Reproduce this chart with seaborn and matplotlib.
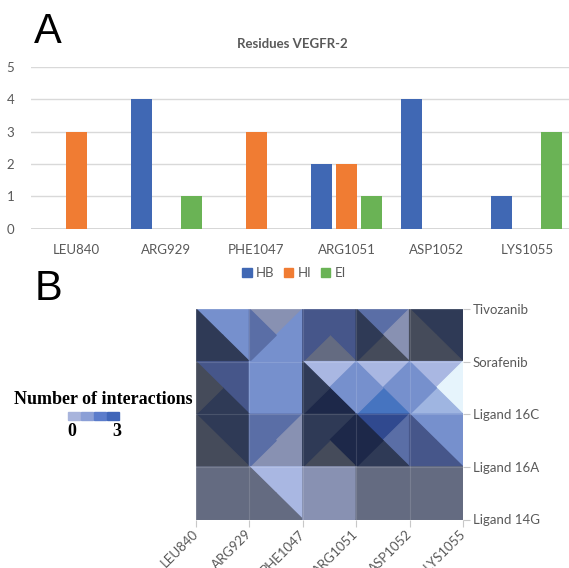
import matplotlib
matplotlib.use("Agg")
import matplotlib.pyplot as plt
import matplotlib.tri as mtri
from matplotlib.colors import ListedColormap
from matplotlib.patches import Rectangle, Patch
import numpy as np
import pandas as pd
import seaborn as sns

# ---------------- data ----------------
residues = ['LEU840', 'ARG929', 'PHE1047', 'ARG1051', 'ASP1052', 'LYS1055']
interaction_types = ['HB', 'HI', 'EI']
hb_counts = [0, 4, 0, 2, 4, 1]
hi_counts = [3, 0, 3, 2, 0, 0]
ei_counts = [0, 1, 0, 1, 0, 3]

ligands = ['Tivozanib', 'Sorafenib', 'Ligand 16C', 'Ligand 16A', 'Ligand 14G']

# surface facets: per cell (between two ligand rows, two residues) the
# shade of the top, right, bottom, left triangles
facets_tiv_sor = [('M', 'M', 'D', 'D'), ('GB', 'M', 'M', 'MB'), ('DB', 'DB', 'G', 'DB'),
                  ('MB', 'GB', 'S', 'D'), ('D', 'D', 'S', 'S')]
facets_sor_16c = [('DB', 'DB', 'D', 'S'), ('M', 'M', 'M', 'M'), ('L', 'M', 'N', 'D'),
                  ('L', 'M', 'B', 'M'), ('L', 'ICE', 'L2', 'M')]
facets_16c_16a = [('D', 'D', 'S', 'S'), ('MB', 'GB', 'GB', 'MB'), ('D', 'N', 'S', 'D'),
                  ('B2', 'MB', 'D', 'N'), ('M', 'M', 'DB', 'DB')]
facets_16a_14g = [('G', 'G', 'G', 'G'), ('L', 'L', 'G', 'G'), ('GB', 'GB', 'GB', 'GB'),
                  ('G', 'G', 'G', 'G'), ('G', 'G', 'G', 'G')]

legend_levels = ['0', '3']

# ---------------- style ----------------
shade_colors = {
    'D': '#2f3a56', 'N': '#1d2849', 'S': '#454b5a', 'G': '#646b81',
    'GB': '#8891b2', 'M': '#7690cd', 'MB': '#5a6ea6', 'DB': '#46568a',
    'L': '#a9b7e2', 'B': '#4674c0', 'B2': '#30498f', 'ICE': '#e6f4fc',
    'L2': '#9fb5e1',
}
bar_colors = ['#4068b4', '#f07c33', '#6ab355']
legend_swatch_colors = ['#a8b4dc', '#8b9fd6', '#5b7ccb', '#4066b9']
text_gray = '#595959'

plt.rcParams['font.family'] = ['Lato', 'DejaVu Sans']

W, H = 569, 568
fig = plt.figure(figsize=(W / 100, H / 100), dpi=100)

def fx(px):
    return px / W

def fy(py):
    return 1 - py / H

# ---------------- panel A ----------------
axA = fig.add_axes([fx(31), fy(228.7), fx(541), (228.7 - 67) / H])
df = pd.DataFrame({
    'residue': residues * 3,
    'type': sum([[t] * len(residues) for t in interaction_types], []),
    'count': hb_counts + hi_counts + ei_counts,
})
sns.barplot(data=df, x='residue', y='count', hue='type', hue_order=interaction_types,
            order=residues, palette=bar_colors, width=0.83, gap=0.16,
            linewidth=0, ax=axA, legend=False, saturation=1)
axA.set_ylim(0, 5)
axA.set_xlim(-0.5, 5.5)
axA.set_yticks(range(6))
axA.yaxis.grid(True, color='#d9d9d9', lw=1)
axA.set_axisbelow(True)
for s in axA.spines.values():
    s.set_visible(False)
axA.axhline(0, color='#d0d0d0', lw=1.2, zorder=0)
axA.tick_params(axis='both', length=0, colors=text_gray, labelsize=9.5)
axA.tick_params(axis='x', pad=11)
axA.tick_params(axis='y', pad=12)
axA.set_xlabel('')
axA.set_ylabel('')

fig.text(fx(292), fy(44), 'Residues VEGFR-2', ha='center', va='center',
         fontsize=9.5, fontweight='bold', color=text_gray)
handles = [Patch(color=c, label=t) for c, t in zip(bar_colors, interaction_types)]
fig.legend(handles=handles, loc='center', bbox_to_anchor=(fx(294), fy(273)), ncol=3,
           frameon=False, handlelength=0.7, handleheight=0.7, handletextpad=0.35,
           columnspacing=0.7, fontsize=9.5, labelcolor=text_gray)

fig.text(fx(34), fy(43), 'A', fontsize=30, family='Liberation Sans', va='baseline', ha='left')
fig.text(fx(35), fy(300), 'B', fontsize=30, family='Liberation Sans', va='baseline', ha='left')

# ---------------- panel B ----------------
axB = fig.add_axes([fx(196), fy(519.5), fx(267), 210.5 / H])
ncol, nrow = len(residues), len(ligands)
vx, vy = [], []
for j in range(nrow):
    for i in range(ncol):
        vx.append(i)
        vy.append(j)
ncorner = len(vx)
cell_rows = [facets_tiv_sor, facets_sor_16c, facets_16c_16a, facets_16a_14g]
for r in range(len(cell_rows)):
    for c in range(ncol - 1):
        vx.append(c + 0.5)
        vy.append(r + 0.5)

keys = list(shade_colors.keys())
tris, fcol = [], []
for r, row in enumerate(cell_rows):
    for c, cell in enumerate(row):
        tl = r * ncol + c
        tr = tl + 1
        bl = (r + 1) * ncol + c
        br = bl + 1
        ctr = ncorner + r * (ncol - 1) + c
        for (a, b), k in zip([(tl, tr), (tr, br), (br, bl), (bl, tl)], cell):
            tris.append([a, b, ctr])
            fcol.append(keys.index(k))
tri = mtri.Triangulation(np.array(vx, float), np.array(vy, float), np.array(tris))
cmap = ListedColormap([shade_colors[k] for k in keys])
axB.tripcolor(tri, facecolors=np.array(fcol, float), cmap=cmap, vmin=-0.5,
              vmax=len(keys) - 0.5, edgecolors='face', linewidth=1.0, antialiased=True)
axB.set_xlim(0, ncol - 1)
axB.set_ylim(nrow - 1, 0)
axB.set_xticks(range(ncol))
axB.set_yticks(range(nrow))
axB.grid(True, color='white', alpha=0.13, lw=0.8)
for s in axB.spines.values():
    s.set_visible(False)
axB.yaxis.tick_right()
axB.set_yticklabels(ligands)
axB.set_xticklabels(residues, rotation=45, ha='right', va='center', rotation_mode='anchor')
axB.tick_params(axis='both', length=5, width=0.8, color='#c8c8c8', colors=text_gray,
                labelsize=9.5)
axB.tick_params(axis='x', pad=4, color='#c8c8c8')
axB.tick_params(axis='y', pad=2, color='#c8c8c8')

# heatmap legend
fig.text(fx(103), fy(400), 'Number of interactions', ha='center', va='center',
         fontsize=13, fontweight='bold', family='Liberation Serif')
sw, gapw = 11.5, 1.5
x0 = 68
for k, col in enumerate(legend_swatch_colors):
    fig.patches.append(Rectangle((fx(x0 + k * (sw + gapw)), fy(420)), fx(sw), 8.5 / H,
                                 transform=fig.transFigure, color=col))
for lab, xpos in zip(legend_levels, [72, 117]):
    fig.text(fx(xpos), fy(432), lab, ha='center', va='center',
             fontsize=13, fontweight='bold', family='Liberation Serif')

fig.savefig('out.png', dpi=100)
